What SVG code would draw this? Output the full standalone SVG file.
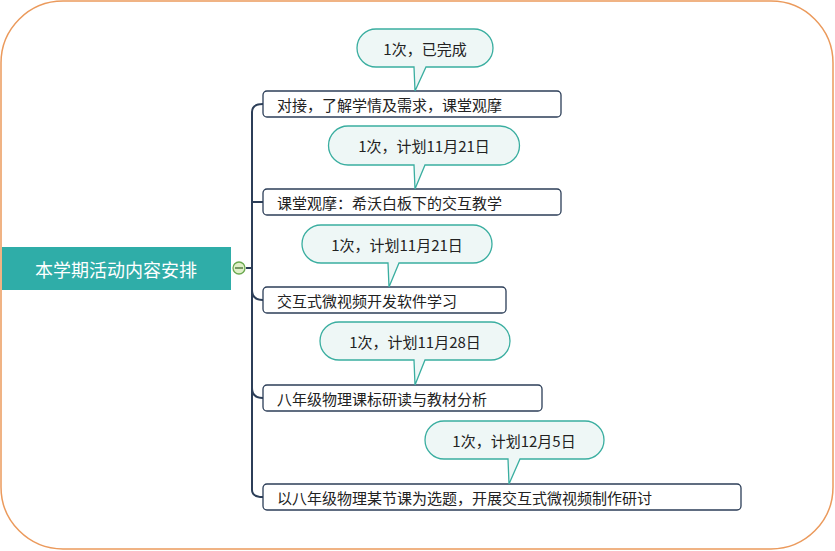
<svg xmlns="http://www.w3.org/2000/svg" width="835" height="551" viewBox="0 0 835 551">
<style>
.t{font-family:"Noto Sans CJK SC","Liberation Sans",sans-serif;font-size:15px;fill:#222;dominant-baseline:central}
.b{fill:#fff;stroke:#2c3e58;stroke-width:1.3}
.c{fill:#eef7f6;stroke:#3aaea0;stroke-width:1.3}
.l{fill:none;stroke:#2c3e58;stroke-width:2}
</style>
<rect x="1" y="1" width="832" height="548" rx="62" fill="#fff" stroke="#eb9a5c" stroke-width="1.5"/>
<g id="connectors">
<path class="l" d="M252 112 V490 M252 268 H246"/>
<path class="l" d="M252 112 Q252 104 263 104 M252 202 Q252 202 263 202 M252 290 Q252 300 263 300 M252 388 Q252 398 263 398 M252 490 Q252 497 263 497"/>
</g>
<g id="root">
<rect x="2" y="247" width="229" height="43" fill="#2fada8"/>
<text x="116" y="268.5" class="t" style="fill:#fff;font-size:18px" text-anchor="middle">本学期活动内容安排</text>
<circle cx="239" cy="268" r="6" fill="#dff0c8" stroke="#6aa84f" stroke-width="1.3"/>
<line x1="235" y1="268" x2="243" y2="268" stroke="#3d6b2a" stroke-width="1.3"/>
</g>
<g id="n1"><rect class="b" x="263" y="91" width="298" height="26" rx="4"/><text class="t" x="277" y="104">对接，了解学情及需求，课堂观摩</text></g>
<g id="n2"><rect class="b" x="263" y="189" width="298" height="26" rx="4"/><text class="t" x="277" y="202">课堂观摩：希沃白板下的交互教学</text></g>
<g id="n3"><rect class="b" x="263" y="287" width="243" height="26" rx="4"/><text class="t" x="277" y="300">交互式微视频开发软件学习</text></g>
<g id="n4"><rect class="b" x="263" y="385" width="279" height="26" rx="4"/><text class="t" x="277" y="398">八年级物理课标研读与教材分析</text></g>
<g id="n5"><rect class="b" x="263" y="484" width="478" height="26" rx="4"/><text class="t" x="277" y="497">以八年级物理某节课为选题，开展交互式微视频制作研讨</text></g>
<g id="c1"><path class="c" d="M376 29 H474 A19 19 0 0 1 474 67 H426 L415 91 L414 67 H376 A19 19 0 0 1 376 29 Z"/><text class="t" x="425" y="48" text-anchor="middle">1次，已完成</text></g>
<g id="c2"><path class="c" d="M348 126 H500 A19.5 19.5 0 0 1 500 165 H425 L415 189 L414 165 H348 A19.5 19.5 0 0 1 348 126 Z"/><text class="t" x="424" y="145.5" text-anchor="middle">1次，计划11月21日</text></g>
<g id="c3"><path class="c" d="M321 225 H473 A19 19 0 0 1 473 263 H399 L389 287 L388 263 H321 A19 19 0 0 1 321 225 Z"/><text class="t" x="397" y="244" text-anchor="middle">1次，计划11月21日</text></g>
<g id="c4"><path class="c" d="M339 322 H491 A19 19 0 0 1 491 360 H425 L415 385 L414 360 H339 A19 19 0 0 1 339 322 Z"/><text class="t" x="415" y="341" text-anchor="middle">1次，计划11月28日</text></g>
<g id="c5"><path class="c" d="M444 421 H585 A19 19 0 0 1 585 459 H520 L509 484 L508 459 H444 A19 19 0 0 1 444 421 Z"/><text class="t" x="514" y="440" text-anchor="middle">1次，计划12月5日</text></g>
</svg>
